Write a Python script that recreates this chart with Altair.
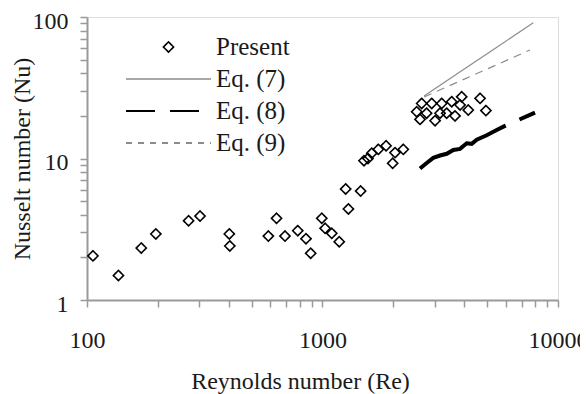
import altair as alt
import pandas as pd

# ---------------- data ----------------
series_names = ["Present", "Eq. (7)", "Eq. (8)", "Eq. (9)"]
series_colors = ["#000000", "#8c8c8c", "#000000", "#8c8c8c"]

present_re = [106, 136, 170, 196, 270, 302, 402, 404, 589, 638, 693, 785, 851, 891, 993, 1026, 1095, 1178, 1254, 1288, 1452,
              1500, 1560, 1618, 1726, 1862, 1986, 2032, 2203,
              2512, 2595, 2637, 2767, 2909, 3006, 3155, 3208, 3367, 3537, 3653, 3838, 3901, 4159, 4667, 4943]
present_nu = [2.05, 1.49, 2.33, 2.93, 3.63, 3.92, 2.93, 2.41, 2.83, 3.78, 2.83, 3.09, 2.71, 2.14, 3.78, 3.21, 2.96, 2.58, 6.09, 4.40, 5.89,
              9.65, 10.0, 10.9, 11.6, 12.3, 9.25, 11.0, 11.6,
              21.4, 18.9, 24.5, 20.9, 24.5, 18.5, 20.9, 24.5, 20.9, 25.2, 20.0, 23.9, 27.3, 22.0, 26.6, 21.8]

eq7_re = [2700, 4000, 5500, 7850]
eq7_nu = [27.7, 42.9, 61.2, 91.0]

eq8_re = [2594, 2770, 2954, 3155, 3369, 3593, 3837, 4097, 4300, 4517, 4981, 5492, 5955, 7986]
eq8_nu = [8.5, 9.3, 10.1, 10.5, 10.8, 11.5, 11.7, 12.8, 12.7, 13.6, 14.6, 15.9, 17.0, 21.1]

eq9_re = [2700, 4000, 5500, 7600]
eq9_nu = [27.2, 36.4, 46.0, 58.5]

x_ticks = [100, 200, 300, 400, 500, 600, 700, 800, 900,
           1000, 2000, 3000, 4000, 5000, 6000, 7000, 8000, 9000, 10000]
y_ticks = [1, 2, 3, 4, 5, 6, 7, 8, 9, 10, 20, 30, 40, 50, 60, 70, 80, 90, 100]
x_labels = [100, 1000, 10000]
y_labels = [1, 10, 100]

# ---------------- styling ----------------
FONT = "'Liberation Serif', 'Times New Roman', Times, serif"
TXT = "#1a1a1a"
FRAME = "#9a9a9a"

diamond_path = "M-0.12,0L0,-0.12L0.12,0L0,0.12Z"
line_path = "M-1,0L1,0"

df_p = pd.DataFrame({"Re": present_re, "Nu": present_nu, "series": "Present"})
df7 = pd.DataFrame({"Re": eq7_re, "Nu": eq7_nu, "series": "Eq. (7)"})
df8 = pd.DataFrame({"Re": eq8_re, "Nu": eq8_nu, "series": "Eq. (8)"})
df9 = pd.DataFrame({"Re": eq9_re, "Nu": eq9_nu, "series": "Eq. (9)"})


def label_expr(vals):
    arr = ",".join(str(v) for v in vals)
    return f"indexof([{arr}], datum.value) >= 0 ? format(datum.value, 'd') : ''"


x_enc = alt.X(
    "Re:Q",
    scale=alt.Scale(type="log", domain=[100, 10000]),
    axis=alt.Axis(
        values=x_ticks, labelExpr=label_expr(x_labels), title="Reynolds number (Re)",
        grid=False, tickSize=7, tickWidth=1.5, tickColor=FRAME, domainColor=FRAME, domainWidth=2,
        labelFont=FONT, labelFontSize=24, labelColor=TXT, labelPadding=21, labelOverlap=False,
        labelFlush=False, titleFont=FONT, titleFontSize=24, titleFontWeight="normal", titleColor=TXT,
        titleX=213, titleY=81, titleBaseline="middle", titleAlign="center",
    ),
)
y_enc = alt.Y(
    "Nu:Q",
    scale=alt.Scale(type="log", domain=[1, 100]),
    axis=alt.Axis(
        values=y_ticks, labelExpr=label_expr(y_labels), title="Nusselt number (Nu)",
        grid=False, tickSize=7, tickWidth=1.5, tickColor=FRAME, domainColor=FRAME, domainWidth=2,
        labelFont=FONT, labelFontSize=24, labelColor=TXT, labelPadding=12, labelOverlap=False,
        labelFlush=False, labelOffset=4, titleFont=FONT, titleFontSize=24, titleFontWeight="normal",
        titleColor=TXT, titleX=-65, titleY=141.5, titleBaseline="middle", titleAlign="center",
        titleAngle=270,
    ),
)

color_scale = alt.Scale(domain=series_names, range=series_colors)

legend = alt.Legend(
    title=None, orient="none", legendX=38, legendY=19, padding=0,
    symbolSize=7225, labelFont=FONT, labelFontSize=25, labelColor=TXT,
    labelOffset=4, clipHeight=22, rowPadding=7, gridAlign="all",
)

points = alt.Chart(df_p).mark_point(filled=False, size=7225, opacity=1).encode(
    x=x_enc,
    y=y_enc,
    color=alt.Color("series:N", scale=color_scale, legend=legend),
    shape=alt.Shape("series:N", scale=alt.Scale(domain=series_names,
                    range=[diamond_path, line_path, line_path, line_path]), legend=legend),
    strokeDash=alt.StrokeDash("series:N", scale=alt.Scale(domain=series_names,
                              range=[[1, 0], [1, 0], [29, 15], [6, 6]]), legend=legend),
    strokeWidth=alt.StrokeWidth("series:N", scale=alt.Scale(domain=series_names,
                                range=[1.6, 2, 5, 1.5]), legend=legend),
)

line7 = alt.Chart(df7).mark_line(strokeWidth=1.2).encode(
    x=x_enc, y=y_enc, color=alt.Color("series:N", scale=color_scale, legend=legend))
line8 = alt.Chart(df8).mark_line(strokeWidth=4, strokeDash=[98, 15, 17, 40]).encode(
    x=x_enc, y=y_enc, color=alt.Color("series:N", scale=color_scale, legend=legend))
line9 = alt.Chart(df9).mark_line(strokeWidth=1.2, strokeDash=[8, 6]).encode(
    x=x_enc, y=y_enc, color=alt.Color("series:N", scale=color_scale, legend=legend))

chart = alt.layer(line7, line9, line8, points).properties(
    width=471, height=283,
    autosize=alt.AutoSizeParams(type="none"),
    padding={"left": 79, "top": 9, "right": 22, "bottom": 94},
).configure_view(stroke=FRAME, strokeWidth=2).configure(background="white")

chart.save("out.html", embed_options={"renderer": "svg", "actions": False})
